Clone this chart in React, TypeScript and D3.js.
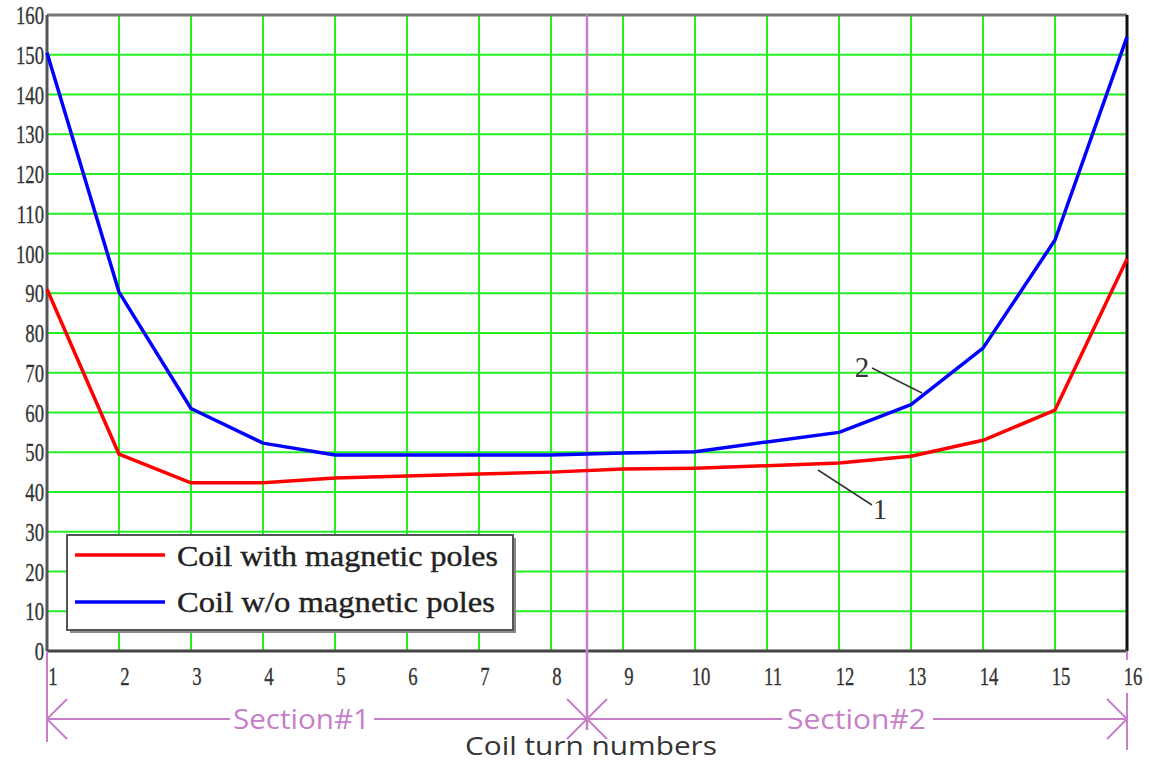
import React from "react";
import * as d3 from "d3";

const turns = [1, 2, 3, 4, 5, 6, 7, 8, 9, 10, 11, 12, 13, 14, 15, 16];
const withPoles = [91, 49.5, 42.3, 42.3, 43.5, 44, 44.5, 45, 45.8, 46, 46.6, 47.3, 49, 53, 60.6, 98.6];
const withoutPoles = [150.5, 90.3, 61, 52.3, 49.3, 49.3, 49.3, 49.3, 49.8, 50.1, 52.6, 55, 62, 76.2, 103.4, 154.5];
const yTicks = [0, 10, 20, 30, 40, 50, 60, 70, 80, 90, 100, 110, 120, 130, 140, 150, 160];
const legendLabels = ["Coil with magnetic poles", "Coil w/o magnetic poles"];
const sectionBoundary = 8.5;

const W = 1149, H = 763;
const L = 47, R = 1127, T = 15, B = 651;

export default function App() {
  const x = d3.scaleLinear().domain([1, 16]).range([L, R]);
  const y = d3.scaleLinear().domain([0, 160]).range([B, T]);
  const line = d3.line<number>().x((_, i) => x(turns[i])).y((d) => y(d));
  const purple = "#c77fc9";
  const gridGreen = "#22ee22";
  const tickFont = "Liberation Serif";
  const secY = 719;
  const mid = x(sectionBoundary);
  const ah = 20;
  return (
    <svg width={W} height={H} style={{ position: "absolute", left: 0, top: 0 }}>
      <rect width={W} height={H} fill="#fff" />
      {/* grid */}
      {yTicks.filter((t) => t > 0 && t < 160).map((t) => (
        <line key={"h" + t} x1={L} x2={R} y1={y(t)} y2={y(t)} stroke={gridGreen} strokeWidth={2} />
      ))}
      {turns.filter((t) => t > 1 && t < 16).map((t) => (
        <line key={"v" + t} x1={x(t)} x2={x(t)} y1={T} y2={B} stroke={gridGreen} strokeWidth={2} />
      ))}
      {/* frame */}
      <line x1={L} x2={R} y1={T} y2={T} stroke="#777" strokeWidth={3} />
      <line x1={L} x2={L} y1={T} y2={B} stroke="#555" strokeWidth={3} />
      <line x1={R} x2={R} y1={T} y2={B} stroke="#111" strokeWidth={3} />
      <line x1={L} x2={R} y1={B} y2={B} stroke="#444" strokeWidth={3} />
      {/* section divider */}
      <line x1={mid} x2={mid} y1={T} y2={730} stroke={purple} strokeWidth={2.5} />
      {/* series */}
      <path d={line(withPoles) || ""} fill="none" stroke="#ff0000" strokeWidth={3.5} strokeLinejoin="round" />
      <path d={line(withoutPoles) || ""} fill="none" stroke="#0000ff" strokeWidth={3.5} strokeLinejoin="round" />
      {/* annotations */}
      <line x1={872} x2={922} y1={368} y2={393} stroke="#333" strokeWidth={1.5} />
      <text x={862} y={377} fontFamily={tickFont} fontSize={29} fill="#333" textAnchor="middle">2</text>
      <line x1={818} x2={872} y1={470} y2={505} stroke="#333" strokeWidth={1.5} />
      <text x={880} y={519} fontFamily={tickFont} fontSize={29} fill="#333" textAnchor="middle">1</text>
      {/* legend */}
      <rect x={70} y={538} width={446} height={95} fill="#888" />
      <rect x={67} y={535} width={446} height={95} fill="#fff" stroke="#555" strokeWidth={2} />
      {legendLabels.map((lab, i) => (
        <g key={lab}>
          <line x1={75} x2={165} y1={555 + i * 47} y2={555 + i * 47} stroke={i === 0 ? "#ff0000" : "#0000ff"} strokeWidth={3.5} />
          <text x={177} y={566 + i * 46} fontFamily={tickFont} fontSize={30} fill="#222"
            stroke="#222" strokeWidth={0.4} textLength={i === 0 ? 321 : 318} lengthAdjust="spacingAndGlyphs">{lab}</text>
        </g>
      ))}
      {/* y ticks */}
      {yTicks.map((t) => (
        <text key={"yt" + t} transform={`translate(44,${y(t) + 9}) scale(0.72,1)`} textAnchor="end"
          fontFamily={tickFont} fontSize={26} fill="#333" stroke="#333" strokeWidth={0.3}>{t}</text>
      ))}
      {/* x ticks */}
      {turns.map((t) => (
        <text key={"xt" + t} transform={`translate(${x(t) + 6},${685}) scale(0.72,1)`} textAnchor="middle"
          fontFamily={tickFont} fontSize={26} fill="#333" stroke="#333" strokeWidth={0.3}>{t}</text>
      ))}
      {/* section arrows */}
      <line x1={L} x2={L} y1={B} y2={742} stroke={purple} strokeWidth={2} />
      <line x1={R} x2={R} y1={B} y2={660} stroke={purple} strokeWidth={2} />
      <line x1={R} x2={R} y1={693} y2={750} stroke={purple} strokeWidth={2} />
      <line x1={L} x2={230} y1={secY} y2={secY} stroke={purple} strokeWidth={2} />
      <line x1={374} x2={mid} y1={secY} y2={secY} stroke={purple} strokeWidth={2} />
      <line x1={mid} x2={782} y1={secY} y2={secY} stroke={purple} strokeWidth={2} />
      <line x1={933} x2={R} y1={secY} y2={secY} stroke={purple} strokeWidth={2} />
      <path d={`M${L + ah},${secY - ah}L${L},${secY}L${L + ah},${secY + ah}`} fill="none" stroke={purple} strokeWidth={2} />
      <path d={`M${R - ah},${secY - ah}L${R},${secY}L${R - ah},${secY + ah}`} fill="none" stroke={purple} strokeWidth={2} />
      <path d={`M${mid - ah},${secY - ah}L${mid},${secY}L${mid - ah},${secY + ah}`} fill="none" stroke={purple} strokeWidth={2} />
      <path d={`M${mid + ah},${secY - ah}L${mid},${secY}L${mid + ah},${secY + ah}`} fill="none" stroke={purple} strokeWidth={2} />
      <text x={233} y={729} fontFamily="Open Sans" fontSize={27} fill={purple}
        textLength={137} lengthAdjust="spacingAndGlyphs">Section#1</text>
      <text x={787} y={729} fontFamily="Open Sans" fontSize={27} fill={purple}
        textLength={139} lengthAdjust="spacingAndGlyphs">Section#2</text>
      <text x={465} y={755} fontFamily="Open Sans" fontSize={25} fill="#333"
        textLength={252} lengthAdjust="spacingAndGlyphs">Coil turn numbers</text>
    </svg>
  );
}
